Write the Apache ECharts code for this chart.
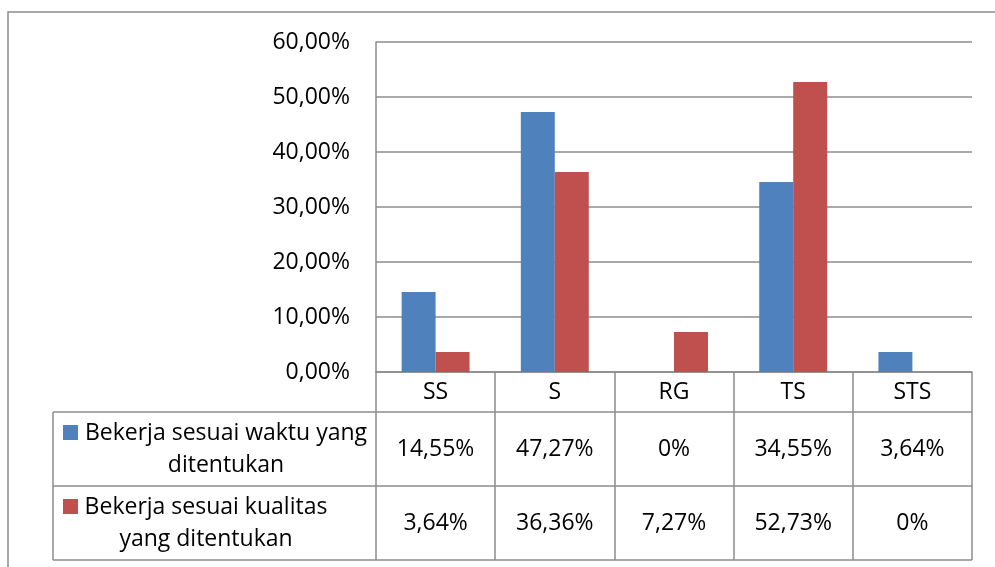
<!DOCTYPE html>
<html>
<head>
<meta charset="utf-8">
<script src="https://cdn.jsdelivr.net/npm/echarts@6/dist/echarts.min.js"></script>
<style>
  html, body { margin: 0; padding: 0; background: #fff; }
  #chart { width: 995px; height: 567px; }
</style>
</head>
<body>
<div id="chart"></div>
<script>
// data
var categories = ['SS', 'S', 'RG', 'TS', 'STS'];
var waktuValues = [14.55, 47.27, 0, 34.55, 3.64];      // Bekerja sesuai waktu yang ditentukan
var kualitasValues = [3.64, 36.36, 7.27, 52.73, 0];    // Bekerja sesuai kualitas yang ditentukan
var seriesNames = ['Bekerja sesuai waktu yang\nditentukan', 'Bekerja sesuai kualitas\nyang ditentukan'];
var yTicks = [0, 10, 20, 30, 40, 50, 60];

var FONT = 'Open Sans';
var SIZE = 23;
var GRAY = '#8c8c8c';
var BLUE = '#4F81BD';
var RED = '#C0504D';

// layout (pixels)
var plotLeft = 376, plotRight = 972, plotTop = 42, plotBottom = 372;
var headBottom = 412, row1Bottom = 486, row2Bottom = 560, tableLeft = 53;

function pct(v) {
    if (v === 0) return '0%';
    return v.toFixed(2).replace('.', ',') + '%';
}

var myChart = echarts.init(document.getElementById('chart'));

var option = {
    animation: false,
    backgroundColor: '#fff',
    textStyle: { fontFamily: FONT },
    grid: {
        left: plotLeft,
        right: 995 - plotRight,
        top: plotTop,
        bottom: 567 - plotBottom
    },
    xAxis: [
        {
            type: 'category',
            data: categories,
            axisLine: { show: true, lineStyle: { color: GRAY, width: 1.5 } },
            axisTick: { show: true, length: row2Bottom - plotBottom, lineStyle: { color: GRAY, width: 1.5 } },
            axisLabel: { color: '#000', fontFamily: FONT, fontSize: SIZE, margin: (headBottom - plotBottom) / 2, verticalAlign: 'middle' }
        },
        {
            // row 1 of the data table
            type: 'category',
            position: 'bottom',
            offset: (headBottom + row1Bottom) / 2 - plotBottom,
            data: waktuValues.map(pct),
            axisLine: { show: false },
            axisTick: { show: false },
            axisLabel: { color: '#000', fontFamily: FONT, fontSize: SIZE, margin: 0, verticalAlign: 'middle' }
        },
        {
            // row 2 of the data table
            type: 'category',
            position: 'bottom',
            offset: (row1Bottom + row2Bottom) / 2 - plotBottom,
            data: kualitasValues.map(pct),
            axisLine: { show: false },
            axisTick: { show: false },
            axisLabel: { color: '#000', fontFamily: FONT, fontSize: SIZE, margin: 0, verticalAlign: 'middle' }
        }
    ],
    yAxis: {
        type: 'value',
        min: yTicks[0],
        max: yTicks[yTicks.length - 1],
        interval: 10,
        axisLine: { show: true, lineStyle: { color: GRAY, width: 1.5 } },
        axisTick: { show: false },
        splitLine: { lineStyle: { color: GRAY, width: 1.5 } },
        axisLabel: {
            color: '#000', fontFamily: FONT, fontSize: SIZE, margin: 26,
            formatter: function (v) { return v.toFixed(2).replace('.', ',') + '%'; }
        }
    },
    series: [
        {
            name: seriesNames[0],
            type: 'bar',
            data: waktuValues,
            barGap: 0,
            barCategoryGap: '43%',
            itemStyle: { color: BLUE }
        },
        {
            name: seriesNames[1],
            type: 'bar',
            data: kualitasValues,
            itemStyle: { color: RED }
        }
    ],
    graphic: [
        // outer chart border
        { type: 'rect', shape: { x: 8, y: 12, width: 1100, height: 700 }, style: { fill: 'none', stroke: GRAY, lineWidth: 1.5 }, silent: true },
        // table horizontal lines
        { type: 'line', shape: { x1: tableLeft, y1: headBottom, x2: plotRight, y2: headBottom }, style: { stroke: GRAY, lineWidth: 1.5 } },
        { type: 'line', shape: { x1: tableLeft, y1: row1Bottom, x2: plotRight, y2: row1Bottom }, style: { stroke: GRAY, lineWidth: 1.5 } },
        { type: 'line', shape: { x1: tableLeft, y1: row2Bottom, x2: plotRight, y2: row2Bottom }, style: { stroke: GRAY, lineWidth: 1.5 } },
        { type: 'line', shape: { x1: tableLeft, y1: headBottom, x2: tableLeft, y2: row2Bottom }, style: { stroke: GRAY, lineWidth: 1.5 } },
        // legend keys
        { type: 'rect', shape: { x: 63, y: 425, width: 15, height: 15 }, style: { fill: BLUE } },
        { type: 'rect', shape: { x: 63, y: 499, width: 15, height: 15 }, style: { fill: RED } },
        {
            type: 'text', x: 226, y: (headBottom + row1Bottom) / 2,
            style: { text: seriesNames[0], fill: '#000', font: SIZE + 'px "' + FONT + '"', align: 'center', verticalAlign: 'middle', lineHeight: 32 }
        },
        {
            type: 'text', x: 206, y: (row1Bottom + row2Bottom) / 2,
            style: { text: seriesNames[1], fill: '#000', font: SIZE + 'px "' + FONT + '"', align: 'center', verticalAlign: 'middle', lineHeight: 32 }
        }
    ]
};

myChart.setOption(option);
</script>
</body>
</html>
